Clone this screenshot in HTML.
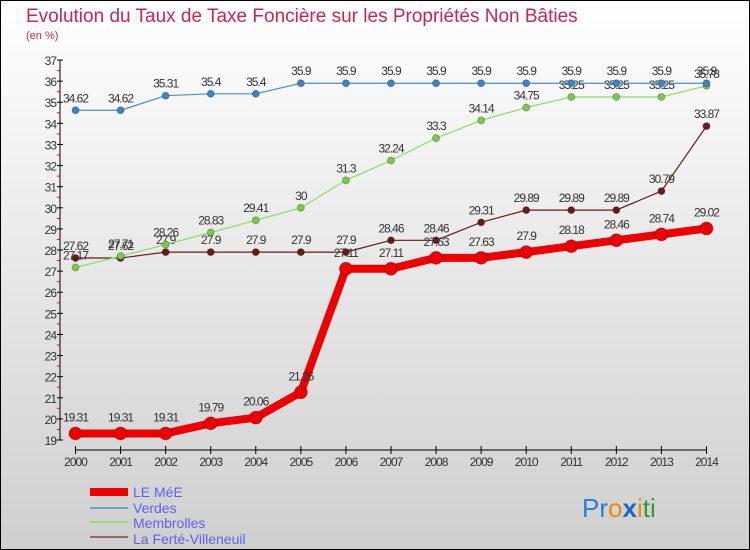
<!DOCTYPE html>
<html><head><meta charset="utf-8"><style>
body{margin:0;width:750px;height:550px;overflow:hidden;font-family:"Liberation Sans",sans-serif}
svg{display:block}
</style></head><body>
<svg id="c" width="750" height="550">
<defs><linearGradient id="bg" x1="0" y1="0" x2="0" y2="1"><stop offset="0" stop-color="#ffffff"/><stop offset="1" stop-color="#cfcfcf"/></linearGradient></defs>
<rect x="0.5" y="0.5" width="749" height="549" fill="url(#bg)" stroke="#000"/>
<text x="26" y="22" font-size="19" fill="#c8245a">Evolution du Taux de Taxe Foncière sur les Propriétés Non Bâties</text>
<text x="26" y="39" font-size="11" fill="#c8245a">(en %)</text>
<g id="axes"></g><g id="series"></g>
<g font-size="14" fill="#6060ee">
<rect x="90" y="488" width="38" height="8" fill="#ee0000"/><text x="133" y="497">LE MéE</text>
<line x1="90" y1="508" x2="128" y2="508" stroke="#6fa2c8" stroke-width="2"/><text x="133" y="513">Verdes</text>
<line x1="90" y1="522" x2="128" y2="522" stroke="#99dd77" stroke-width="2"/><text x="133" y="528">Membrolles</text>
<line x1="90" y1="537" x2="128" y2="537" stroke="#996666" stroke-width="2"/><text x="133" y="544">La Ferté-Villeneuil</text>
</g>
<text x="582" y="517" font-size="26"><tspan fill="#2a7fd0">Pr</tspan><tspan fill="#f08a00">o</tspan><tspan fill="#1a66cc" font-weight="bold">x</tspan><tspan fill="#f08a00">i</tspan><tspan fill="#339933">ti</tspan></text>
</svg>
<script>
const years=["2000","2001","2002","2003","2004","2005","2006","2007","2008","2009","2010","2011","2012","2013","2014"];
const yTicks=[19,20,21,22,23,24,25,26,27,28,29,30,31,32,33,34,35,36,37];
const leMee=[19.31,19.31,19.31,19.79,20.06,21.26,27.11,27.11,27.63,27.63,27.9,28.18,28.46,28.74,29.02];
const verdes=[34.62,34.62,35.31,35.4,35.4,35.9,35.9,35.9,35.9,35.9,35.9,35.9,35.9,35.9,35.9];
const membrolles=[27.17,27.71,28.26,28.83,29.41,30,31.3,32.24,33.3,34.14,34.75,35.25,35.25,35.25,35.78];
const ferte=[27.62,27.62,27.9,27.9,27.9,27.9,27.9,28.46,28.46,29.31,29.89,29.89,29.89,30.79,33.87];
const NS="http://www.w3.org/2000/svg";
const xs=i=>75.5+i*45.07, ys=v=>440-(v-19)*21.11;
function mk(t,a,p){const e=document.createElementNS(NS,t);for(const k in a)e.setAttribute(k,a[k]);p.appendChild(e);return e;}
const ax=document.getElementById('axes');
const yl=mk('line',{x1:60,y1:60,x2:60,y2:440,stroke:'#000'},ax);


yTicks.forEach(v=>{const y=ys(v);
mk('line',{x1:57,y1:y,x2:63,y2:y,stroke:'#000'},ax);
if(v<37)mk('line',{x1:57,y1:y-10.55,x2:60,y2:y-10.55,stroke:'#e00'},ax);
const t=mk('text',{x:56,y:y+5,'font-size':12,fill:'#333','text-anchor':'end','letter-spacing':'-1'},ax);t.textContent=v;

});
const xl=mk('line',{x1:75.5,y1:450,x2:xs(14),y2:450,stroke:'#000'},ax);


years.forEach((yr,i)=>{const x=xs(i);mk('line',{x1:x,y1:446,x2:x,y2:454,stroke:'#000'},ax);
const t=mk('text',{x:x,y:466,'font-size':12,fill:'#333','text-anchor':'middle','letter-spacing':'-1'},ax);t.textContent=yr;

});
const sg=document.getElementById('series');
function draw(vals,name,lc,lw,pc,r){const g=mk('g',{},sg);


mk('polyline',{points:vals.map((v,i)=>xs(i)+','+ys(v)).join(' '),fill:'none',stroke:lc,'stroke-width':lw,'stroke-linejoin':'round'},g);
vals.forEach((v,i)=>{const c=mk('circle',{cx:xs(i),cy:ys(v),r:r,fill:pc,stroke:'rgba(0,0,0,0.25)'},g);


const t=mk('text',{x:xs(i),y:ys(v)-8-(r>4?4:0),'font-size':12,fill:'#333','text-anchor':'middle','letter-spacing':'-1'},g);t.textContent=v;

});}
draw(ferte,'ferte-series','#6b1a1a',1.2,'#6b1a1a',3.5);
draw(membrolles,'membrolles-series','#88dd66',1.2,'#77cc44',3.5);
draw(verdes,'verdes-series','#4a8fc8',1.2,'#3a85c5',3.5);
draw(leMee,'lemee-series','#ee0000',8,'#ee0000',6.5);
</script>
</body></html>
